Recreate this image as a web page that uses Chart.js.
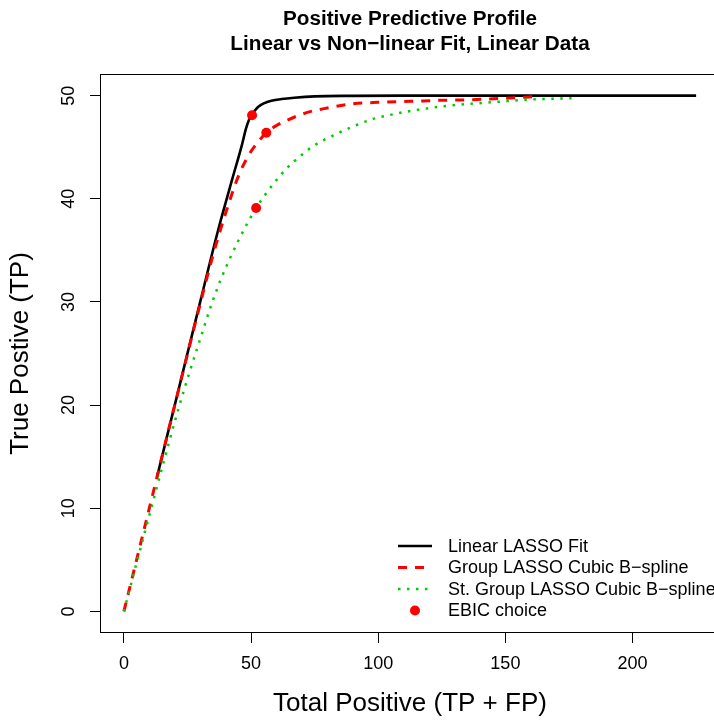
<!DOCTYPE html>
<html><head><meta charset="utf-8">
<script src="https://cdn.jsdelivr.net/npm/chart.js@4/dist/chart.umd.min.js"></script>
<style>
html,body{margin:0;padding:0;overflow:hidden;background:#fff;width:714px;height:720px}
#wrap{width:724px;height:720px}
</style></head>
<body><div id="wrap"><canvas id="c" width="724" height="720"></canvas></div>
<script>
// ---- data ----
const titleLines = ['Positive Predictive Profile', 'Linear vs Non\u2212linear Fit, Linear Data'];
const xAxisTitle = 'Total Positive (TP + FP)';
const yAxisTitle = 'True Postive (TP)';
const xTicks = [0, 50, 100, 150, 200];
const yTicks = [0, 10, 20, 30, 40, 50];
const seriesNames = ['Linear LASSO Fit', 'Group LASSO Cubic B\u2212spline', 'St. Group LASSO Cubic B\u2212spline', 'EBIC choice'];

const linearX = [13, 20, 30, 37, 42.6, 46.5, 48, 49.3, 50.4, 51.8, 53, 55, 58, 62, 67, 75, 90, 110, 150, 225];
const linearY = [13, 20, 30, 36.9, 41.9, 45.3, 46.8, 47.7, 48.2, 48.65, 48.95, 49.25, 49.5, 49.67, 49.8, 49.93, 49.98, 50, 50, 50];

const groupX = [0, 10, 20, 30, 35, 40, 45.2, 49, 52.4, 56, 60, 64, 72.5, 80, 90, 100, 113, 125, 136, 150, 162];
const groupY = [0, 10, 20, 29.8, 34.5, 38.6, 42.3, 44.2, 45.4, 46.4, 47.1, 47.6, 48.4, 48.8, 49.2, 49.35, 49.45, 49.55, 49.6, 49.75, 49.9];

const stGroupX = [0, 5, 10, 15, 21.4, 25.7, 30, 34.5, 38.3, 42.6, 47.4, 52, 55, 59.3, 63.8, 69.2, 75, 82, 90, 97.5, 106, 115, 125, 136, 147, 158, 168, 176];
const stGroupY = [0, 4.7, 9.3, 13.9, 19.6, 23.1, 26.4, 29.8, 32.3, 34.7, 37.1, 39.1, 40.2, 41.6, 42.9, 44.1, 45.2, 46.1, 47, 47.7, 48.2, 48.6, 48.95, 49.2, 49.4, 49.6, 49.7, 49.75];

const ebicX = [50.4, 56, 52];
const ebicY = [48.1, 46.4, 39.1];

// ---- build chart ----
const FONT = "'Liberation Sans', Arial, Helvetica, sans-serif";
Chart.defaults.font.family = FONT;
Chart.defaults.color = '#000';

const toPts = (xs, ys) => xs.map((x, i) => ({x: x, y: ys[i]}));

const styles = [
  {color: '#000000', width: 2.6, dash: []},
  {color: '#FF0000', width: 3, dash: [9, 8]},
  {color: '#00CD00', width: 2.5, dash: [2.5, 6.5]}
];

const boxPlugin = {
  id: 'rbox',
  afterDraw(chart) {
    const ctx = chart.ctx, a = chart.chartArea;
    ctx.save();
    ctx.strokeStyle = '#000';
    ctx.lineWidth = 1;
    ctx.strokeRect(Math.round(a.left) - 0.5, Math.round(a.top) - 0.5, Math.round(a.right - a.left) + 1, Math.round(a.bottom - a.top) + 1);
    // rotated y tick labels (R style)
    const ys = chart.scales.y;
    ctx.font = '18px ' + FONT;
    ctx.fillStyle = '#000';
    ctx.textAlign = 'center';
    ctx.textBaseline = 'middle';
    yTicks.forEach(v => {
      ctx.save();
      ctx.translate(a.left - 32, ys.getPixelForValue(v));
      ctx.rotate(-Math.PI / 2);
      ctx.fillText(String(v), 0, 0);
      ctx.restore();
    });
    // legend (no box, bottom right inside plot)
    const lx0 = 398, lx1 = 432, tx = 448, rowY = [546, 567.5, 589, 610.5];
    ctx.textAlign = 'left';
    for (let i = 0; i < 3; i++) {
      ctx.beginPath();
      ctx.strokeStyle = styles[i].color;
      ctx.lineWidth = styles[i].width;
      ctx.setLineDash(styles[i].dash);
      ctx.lineCap = 'butt';
      ctx.moveTo(lx0, rowY[i]);
      ctx.lineTo(lx1, rowY[i]);
      ctx.stroke();
      ctx.setLineDash([]);
      ctx.fillText(seriesNames[i], tx, rowY[i] + 1);
    }
    ctx.beginPath();
    ctx.fillStyle = '#FF0000';
    ctx.arc((lx0 + lx1) / 2, rowY[3], 5, 0, Math.PI * 2);
    ctx.fill();
    ctx.fillStyle = '#000';
    ctx.fillText(seriesNames[3], tx, rowY[3] + 1);
    ctx.restore();
  }
};

const lineDs = (i, xs, ys, order) => ({
  label: seriesNames[i],
  data: toPts(xs, ys),
  borderColor: styles[i].color,
  borderWidth: styles[i].width,
  borderDash: styles[i].dash,
  borderCapStyle: 'butt',
  cubicInterpolationMode: 'monotone',
  pointRadius: 0,
  fill: false,
  order: order
});

new Chart(document.getElementById('c'), {
  type: 'line',
  data: {
    datasets: [
      lineDs(0, linearX, linearY, 4),
      lineDs(1, groupX, groupY, 3),
      lineDs(2, stGroupX, stGroupY, 2),
      {
        type: 'scatter',
        label: seriesNames[3],
        data: toPts(ebicX, ebicY),
        pointRadius: 5,
        pointBackgroundColor: '#FF0000',
        pointBorderColor: '#FF0000',
        pointBorderWidth: 0,
        showLine: false,
        order: 1
      }
    ]
  },
  options: {
    responsive: false,
    animation: false,
    events: [],
    layout: {padding: 0},
    plugins: {
      legend: {display: false},
      tooltip: {enabled: false},
      title: {
        display: true,
        text: titleLines,
        fullSize: false,
        color: '#000',
        font: {size: 20.7, weight: 'bold', lineHeight: '25px'},
        padding: {top: 6.5, bottom: 18.5}
      }
    },
    scales: {
      x: {
        type: 'linear',
        min: -9, max: 234,
        afterBuildTicks: s => { s.ticks = xTicks.map(v => ({value: v})); },
        afterFit: s => { s.height = 88; },
        border: {display: false},
        grid: {drawOnChartArea: false, drawTicks: true, tickLength: 11, color: '#000', lineWidth: 1},
        ticks: {font: {size: 18}, color: '#000', padding: 10, maxRotation: 0, autoSkip: false},
        title: {display: true, text: xAxisTitle, font: {size: 26, lineHeight: '30px'}, color: '#000', padding: {top: 0, bottom: 1}}
      },
      y: {
        type: 'linear',
        min: -2, max: 52,
        afterBuildTicks: s => { s.ticks = yTicks.map(v => ({value: v})); },
        afterFit: s => { s.width = 101; },
        border: {display: false},
        grid: {drawOnChartArea: false, drawTicks: true, tickLength: 11, color: '#000', lineWidth: 1},
        ticks: {display: false},
        title: {display: true, text: yAxisTitle, font: {size: 26, lineHeight: '30px'}, color: '#000', padding: {top: 6, bottom: 0}}
      }
    }
  },
  plugins: [boxPlugin]
});
</script>
</body></html>
